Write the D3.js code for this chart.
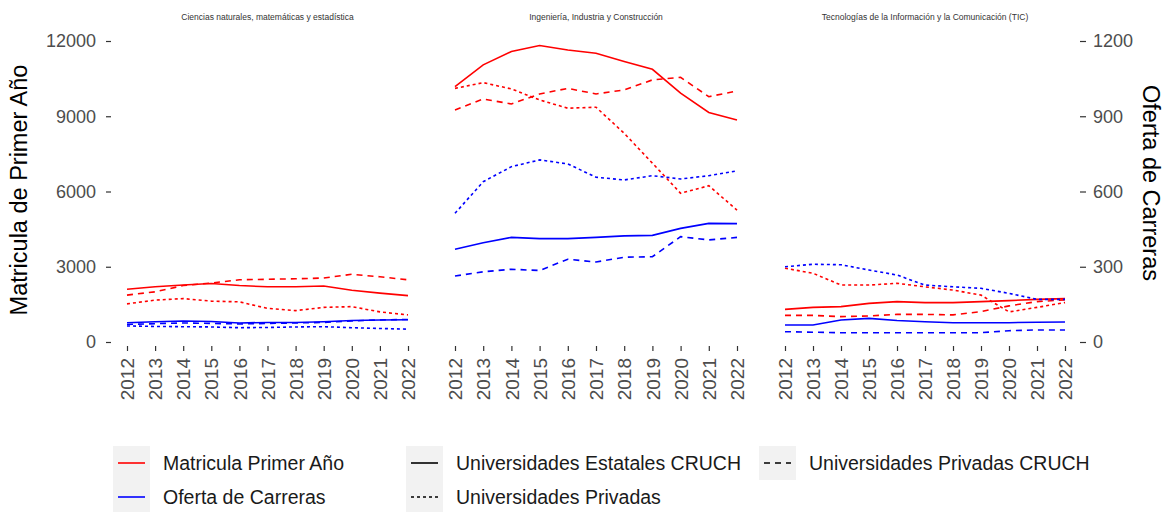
<!DOCTYPE html>
<html>
<head>
<meta charset="utf-8">
<script src="https://cdnjs.cloudflare.com/ajax/libs/d3/7.8.5/d3.min.js"></script>
<style>
  body { margin: 0; background: white; }
  svg { font-family: 'Liberation Sans', Arial, sans-serif; }
</style>
</head>
<body>
<svg id="main" width="1167" height="512"></svg>
<script>
var years = [2012, 2013, 2014, 2015, 2016, 2017, 2018, 2019, 2020, 2021, 2022]
var panels = ['Ciencias naturales, matemáticas y estadística', 'Ingeniería, Industria y Construcción', 'Tecnologías de la Información y la Comunicación (TIC)']
var leftTicks = [0, 3000, 6000, 9000, 12000]
var rightTicks = [0, 300, 600, 900, 1200]

// matricula primer año
var cienciasMatEstatales = [2100, 2200, 2270, 2330, 2250, 2200, 2200, 2230, 2060, 1950, 1850]
var cienciasMatPrivCruch = [1870, 2000, 2250, 2350, 2480, 2500, 2520, 2550, 2700, 2600, 2480]
var cienciasMatPrivadas = [1520, 1670, 1730, 1630, 1600, 1340, 1250, 1380, 1410, 1200, 1080]
var ingMatEstatales = [10180, 11050, 11580, 11820, 11640, 11510, 11180, 10870, 9920, 9150, 8850]
var ingMatPrivCruch = [9250, 9690, 9490, 9890, 10110, 9890, 10050, 10450, 10550, 9780, 10010]
var ingMatPrivadas = [10110, 10340, 10090, 9650, 9320, 9360, 8320, 7130, 5930, 6230, 5260]
var ticMatEstatales = [1300, 1380, 1410, 1540, 1610, 1570, 1570, 1610, 1650, 1700, 1730]
var ticMatPrivCruch = [1060, 1060, 1010, 1040, 1100, 1100, 1080, 1210, 1440, 1610, 1680]
var ticMatPrivadas = [2940, 2740, 2270, 2270, 2340, 2200, 2070, 1870, 1200, 1380, 1570]

// oferta de carreras
var cienciasOfEstatales = [77, 81, 84, 82, 76, 78, 78, 81, 86, 88, 89]
var cienciasOfPrivCruch = [70, 73, 76, 74, 72, 74, 76, 78, 84, 88, 90]
var cienciasOfPrivadas = [64, 62, 61, 60, 57, 58, 60, 61, 57, 54, 51]
var ingOfEstatales = [370, 396, 417, 412, 412, 417, 423, 425, 453, 473, 472]
var ingOfPrivCruch = [263, 280, 290, 285, 330, 319, 338, 340, 420, 407, 417]
var ingOfPrivadas = [513, 639, 699, 726, 710, 657, 646, 663, 650, 663, 682]
var ticOfEstatales = [68, 68, 88, 94, 86, 81, 77, 77, 77, 79, 80]
var ticOfPrivCruch = [41, 39, 37, 37, 37, 37, 37, 37, 45, 48, 48]
var ticOfPrivadas = [300, 310, 308, 287, 267, 227, 220, 214, 194, 170, 170]

var panelData = [
    {mat: [cienciasMatEstatales, cienciasMatPrivCruch, cienciasMatPrivadas], of: [cienciasOfEstatales, cienciasOfPrivCruch, cienciasOfPrivadas]},
    {mat: [ingMatEstatales, ingMatPrivCruch, ingMatPrivadas], of: [ingOfEstatales, ingOfPrivCruch, ingOfPrivadas]},
    {mat: [ticMatEstatales, ticMatPrivCruch, ticMatPrivadas], of: [ticOfEstatales, ticOfPrivCruch, ticOfPrivadas]}
]
var dashes = [null, '6,5', '3,3']

var svg = d3.select('#main')
var yScale = d3.scaleLinear().domain([0, 12000]).range([342, 41])
var yScale2 = d3.scaleLinear().domain([0, 1200]).range([342, 41])
var panelRanges = [[127, 408], [455, 737], [785, 1065]]

// left axis
var leftAxis = svg.append('g').attr('transform', 'translate(111,0)')
    .call(d3.axisLeft(yScale).tickValues(leftTicks).tickFormat(d3.format('d')).tickSize(5).tickPadding(10))
leftAxis.select('.domain').remove()
leftAxis.selectAll('line').attr('stroke', '#333').attr('stroke-width', 1.2)
leftAxis.selectAll('text').attr('fill', '#4d4d4d').style('font-size', '18px')

// right axis
var rightAxis = svg.append('g').attr('transform', 'translate(1080,0)')
    .call(d3.axisRight(yScale2).tickValues(rightTicks).tickFormat(d3.format('d')).tickSize(6).tickPadding(7))
rightAxis.select('.domain').remove()
rightAxis.selectAll('line').attr('stroke', '#333').attr('stroke-width', 1.2)
rightAxis.selectAll('text').attr('fill', '#4d4d4d').style('font-size', '18px')

svg.append('text')
    .attr('transform', 'translate(27,190) rotate(-90)')
    .style('text-anchor', 'middle')
    .style('font-size', '23.5px')
    .attr('fill', 'black')
    .text('Matricula de Primer Año')

svg.append('text')
    .attr('transform', 'translate(1143,183) rotate(90)')
    .style('text-anchor', 'middle')
    .style('font-size', '23.5px')
    .attr('fill', 'black')
    .text('Oferta de Carreras')

panelRanges.forEach(function(r, i) {
    var xScale = d3.scaleLinear().domain([2012, 2022]).range(r)

    svg.append('text')
        .attr('x', (r[0] + r[1]) / 2)
        .attr('y', 20)
        .style('text-anchor', 'middle')
        .style('font-size', '8.5px')
        .attr('fill', '#333')
        .text(panels[i])

    var xAxis = svg.append('g').attr('transform', 'translate(0,346)')
        .call(d3.axisBottom(xScale).tickValues(years).tickFormat(d3.format('d')).tickSize(5).tickPadding(4))
    xAxis.select('.domain').remove()
    xAxis.selectAll('line').attr('stroke', '#333').attr('stroke-width', 1.2)
    xAxis.selectAll('text')
        .attr('fill', '#4d4d4d')
        .style('font-size', '19px')
        .attr('transform', 'rotate(-90)')
        .attr('x', -12)
        .attr('y', 0)
        .attr('dy', '0.35em')
        .style('text-anchor', 'end')

    var lineMat = d3.line().x(function(d, j) { return xScale(years[j]) }).y(function(d) { return yScale(d) })
    var lineOf = d3.line().x(function(d, j) { return xScale(years[j]) }).y(function(d) { return yScale2(d) })

    panelData[i].mat.forEach(function(s, k) {
        svg.append('path')
            .attr('d', lineMat(s))
            .attr('fill', 'none')
            .attr('stroke', 'red')
            .attr('stroke-width', 1.6)
            .attr('stroke-dasharray', dashes[k])
    })
    panelData[i].of.forEach(function(s, k) {
        svg.append('path')
            .attr('d', lineOf(s))
            .attr('fill', 'none')
            .attr('stroke', 'blue')
            .attr('stroke-width', 1.6)
            .attr('stroke-dasharray', dashes[k])
    })
})

// legend
var legendItems = [
    {x: 113, y: 463, label: 'Matricula Primer Año', color: 'red', dash: null},
    {x: 113, y: 497, label: 'Oferta de Carreras', color: 'blue', dash: null},
    {x: 406, y: 463, label: 'Universidades Estatales CRUCH', color: 'black', dash: null},
    {x: 406, y: 497, label: 'Universidades Privadas', color: 'black', dash: '3,3'},
    {x: 759, y: 463, label: 'Universidades Privadas CRUCH', color: 'black', dash: '6,5'}
]
var legend = svg.append('g')
legendItems.forEach(function(d) {
    legend.append('rect')
        .attr('x', d.x)
        .attr('y', d.y - 17)
        .attr('width', 37)
        .attr('height', 34)
        .attr('fill', '#f2f2f2')
    legend.append('line')
        .attr('x1', d.x + 5)
        .attr('x2', d.x + 32)
        .attr('y1', d.y)
        .attr('y2', d.y)
        .attr('stroke', d.color)
        .attr('stroke-width', 1.6)
        .attr('stroke-dasharray', d.dash)
    legend.append('text')
        .attr('x', d.x + 50)
        .attr('y', d.y)
        .attr('dy', '0.35em')
        .style('font-size', '19.5px')
        .attr('fill', '#1a1a1a')
        .text(d.label)
})
</script>
</body>
</html>
